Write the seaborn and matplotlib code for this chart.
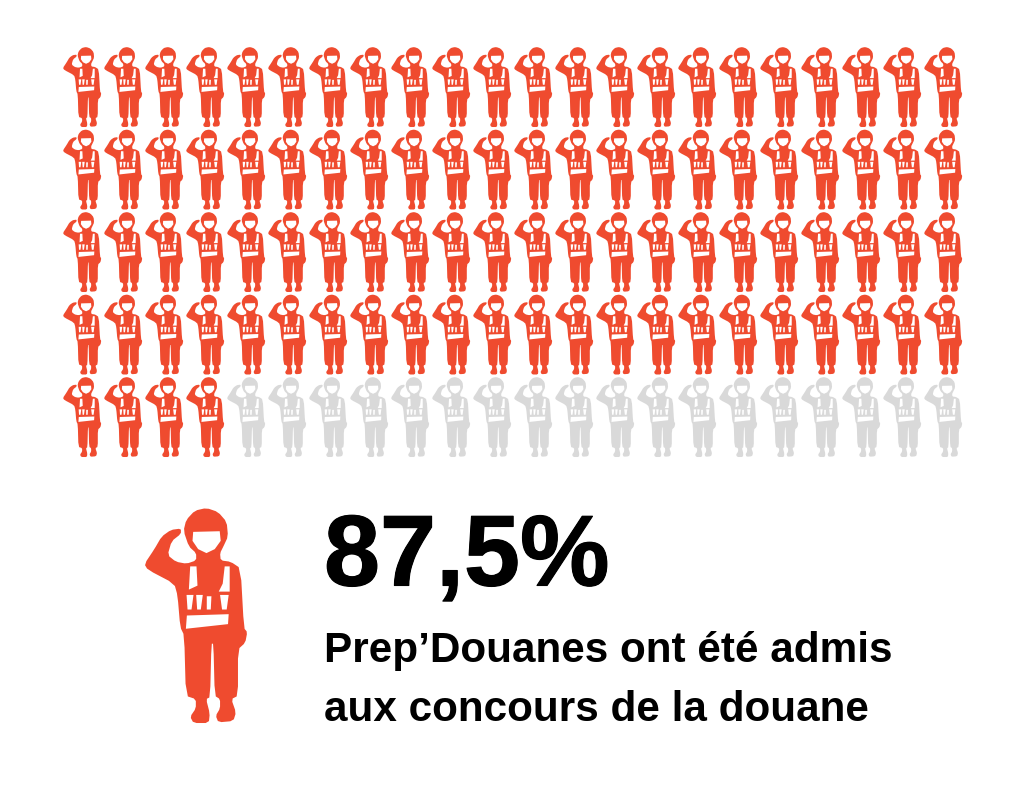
import numpy as np
import pandas as pd
import matplotlib
matplotlib.use('Agg')
import matplotlib.pyplot as plt
import matplotlib.patheffects as pe
import seaborn as sns
from matplotlib.path import Path

# donnees : nombre de silhouettes par statut
statuts = ['admis', 'autres']
effectifs = [92, 18]
nb_colonnes = 22
pourcentage = '87,5%'
legende = ['Prep’Douanes ont été admis', 'aux concours de la douane']

ROUGE = '#EF4B2F'
GRIS = '#D9D9D9'

# contour du soldat
contour = [(148, 98), (118, 102), (90, 122), (68, 160), (38, 205), (48, 222), (128, 264), (138, 300),
           (146, 395), (158, 420), (163, 602), (193, 612), (193, 640), (176, 665), (186, 684), (232, 684),
           (235, 655), (224, 612), (236, 606), (240, 445), (246, 445), (250, 602), (266, 612), (266, 640),
           (253, 662), (261, 682), (306, 678), (314, 652), (300, 612), (320, 602), (320, 462), (342, 442),
           (348, 410), (338, 398), (328, 218), (298, 198), (268, 194), (266, 172), (276, 152), (290, 122),
           (286, 78), (260, 48), (225, 36), (190, 44), (164, 72), (156, 105), (172, 152), (194, 172),
           (194, 194), (165, 204), (133, 198), (108, 178), (120, 136), (148, 114)]
trous = [
    [(185, 108), (265, 106), (268, 135), (250, 160), (225, 172), (200, 160), (183, 135)],
    [(176, 212), (195, 212), (198, 270), (172, 282)],
    [(280, 212), (295, 212), (295, 288), (262, 288), (274, 264)],
    [(165, 298), (186, 298), (180, 342), (168, 342)],
    [(194, 298), (214, 298), (208, 342), (197, 342)],
    [(226, 302), (240, 302), (238, 342), (226, 342)],
    [(266, 298), (292, 298), (286, 342), (272, 342)],
    [(166, 360), (292, 356), (290, 386), (163, 400)],
]


def arrondir(points, passes):
    # coupe les angles pour adoucir la silhouette
    pts = np.array(points, dtype=float)
    for _ in range(passes):
        suivant = np.roll(pts, -1, axis=0)
        q = 0.8 * pts + 0.2 * suivant
        r = 0.2 * pts + 0.8 * suivant
        pts = np.column_stack([q, r]).reshape(-1, 2)
    return pts


def polygone(points, horaire, passes=0):
    pts = arrondir(points, passes)
    pts = (pts - [192, 360]) * [1, -1]
    x, y = pts[:, 0], pts[:, 1]
    aire = np.sum(x * np.roll(y, -1) - np.roll(x, -1) * y)
    if (aire < 0) != horaire:
        pts = pts[::-1]
    return Path(np.vstack([pts, pts[:1]]), closed=True)


soldat = Path.make_compound_path(polygone(contour, True, 1), *[polygone(t, False) for t in trous])

# grille
statut = np.repeat(statuts, effectifs)
ligne, colonne = np.divmod(np.arange(len(statut)), nb_colonnes)
grille = pd.DataFrame({'colonne': colonne, 'ligne': ligne, 'statut': statut})

sns.set_theme(style='white')
plt.rcParams['font.family'] = ['Liberation Sans', 'DejaVu Sans']

fig = plt.figure(figsize=(10.24, 7.94), dpi=100, facecolor='white')

# axe de la grille : x 61-964 px, y 46-458 px
ax = fig.add_axes([61 / 1024, 1 - 458 / 794, 903 / 1024, 412 / 794])
sns.scatterplot(data=grille, x='colonne', y='ligne', hue='statut', palette=[ROUGE, GRIS],
                marker=soldat, s=3320, linewidth=0, legend=False, ax=ax)
ax.set_xlim(-0.512, 21.512)
ax.set_ylim(4.497, -0.497)
ax.axis('off')

# grand soldat
ax2 = fig.add_axes([130 / 1024, 1 - 730 / 794, 130 / 1024, 230 / 794])
sns.scatterplot(x=[0], y=[0], color=ROUGE, marker=soldat, s=23970, linewidth=0, legend=False, ax=ax2)
ax2.axis('off')

gras = [pe.withStroke(linewidth=0.8, foreground='black')]
fig.text(324 / 1024, 1 - 585.5 / 794, pourcentage, fontsize=72.5, fontweight='bold', color='black', path_effects=gras)
fig.text(324 / 1024, 1 - 662 / 794, legende[0], fontsize=30.4, fontweight='bold', color='black')
fig.text(324 / 1024, 1 - 721 / 794, legende[1], fontsize=30.4, fontweight='bold', color='black')

fig.savefig('out.png', dpi=100)
